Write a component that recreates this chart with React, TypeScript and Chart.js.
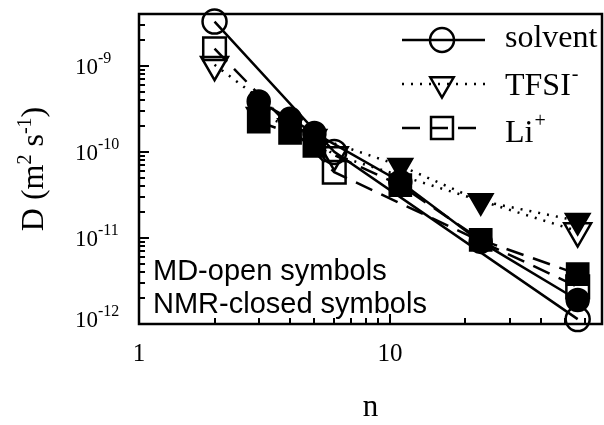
import React, { useEffect, useRef } from 'react';
import { Chart, registerables } from 'chart.js';

Chart.register(...registerables);

// ---- data ----
const mdN = [2, 6, 56];
const nmrN = [3, 4, 5, 11, 23, 56];

const solventMD = [3.27e-9, 1.0e-10, 1.14e-12];
const tfsiMD = [1.03e-9, 9.2e-11, 1.2e-11];
const liMD = [1.58e-9, 5.8e-11, 2.7e-12];

const solventNMR = [3.85e-10, 2.42e-10, 1.66e-10, 4.5e-11, 9.0e-12, 1.9e-12];
const tfsiNMR = [2.7e-10, 2.0e-10, 1.5e-10, 6.9e-11, 2.69e-11, 1.58e-11];
const liNMR = [2.25e-10, 1.66e-10, 1.17e-10, 4.1e-11, 9.5e-12, 3.8e-12];

const xMin = 1;
const xMax = 70;
const yMin = 1e-12;
const yMax = 4e-9;

const xTickValues = [1, 10];
const xTickLabels = ['1', '10'];
const yTickExponents = [-12, -11, -10, -9];

const legendNames = ['solvent', 'TFSI', 'Li'];
const legendSups = ['', '-', '+'];
const noteLines = ['MD-open symbols', 'NMR-closed symbols'];
const xTitle = 'n';

const SERIF = "'Liberation Serif', 'Times New Roman', serif";
const SANS = "'Liberation Sans', Arial, sans-serif";

const pts = (xs: number[], ys: number[]) => xs.map((x, i) => ({ x, y: ys[i] }));

const DOT = [2, 7];
const DASH = [18, 10];

function drawMarker(ctx: CanvasRenderingContext2D, style: string, x: number, y: number, r: number, filled: boolean) {
  ctx.beginPath();
  if (style === 'circle') {
    ctx.arc(x, y, r, 0, Math.PI * 2);
  } else if (style === 'triangle') {
    const s = Math.sin(Math.PI / 3) * r;
    ctx.moveTo(x, y + r);
    ctx.lineTo(x - s, y - r / 2);
    ctx.lineTo(x + s, y - r / 2);
    ctx.closePath();
  } else {
    const h = Math.SQRT1_2 * r;
    ctx.rect(x - h, y - h, 2 * h, 2 * h);
  }
  if (filled) {
    ctx.fillStyle = '#000';
    ctx.fill();
  }
  ctx.setLineDash([]);
  ctx.lineWidth = 2.5;
  ctx.strokeStyle = '#000';
  ctx.stroke();
}

const decor = {
  id: 'decor',
  beforeDatasetsDraw(chart: any) {
    const { ctx, chartArea: a, scales } = chart;
    const xs = scales.x;
    const ys = scales.y;
    ctx.save();
    ctx.strokeStyle = '#000';
    ctx.lineWidth = 2.5;
    ctx.strokeRect(a.left, a.top, a.right - a.left, a.bottom - a.top);
    ctx.lineWidth = 2;
    ctx.beginPath();
    for (let e = 0; e <= 1; e++) {
      for (let k = 1; k <= 9; k++) {
        const v = k * Math.pow(10, e);
        if (v <= xMin || v >= xMax) continue;
        const px = Math.round(xs.getPixelForValue(v));
        const len = k === 1 ? 10 : 6;
        ctx.moveTo(px, a.bottom);
        ctx.lineTo(px, a.bottom - len);
      }
    }
    for (let e = -12; e <= -9; e++) {
      for (let k = 1; k <= 9; k++) {
        const v = k * Math.pow(10, e);
        if (v <= yMin * 1.0001 || v >= yMax) continue;
        const py = Math.round(ys.getPixelForValue(v));
        const len = k === 1 ? 10 : 6;
        ctx.moveTo(a.left, py);
        ctx.lineTo(a.left + len, py);
      }
    }
    ctx.stroke();
    ctx.restore();
  },
  afterDraw(chart: any) {
    const { ctx, chartArea: a, scales } = chart;
    const xs = scales.x;
    const ys = scales.y;
    ctx.save();
    ctx.fillStyle = '#000';

    // y tick labels 10^e
    yTickExponents.forEach((e) => {
      const py = ys.getPixelForValue(Math.pow(10, e));
      ctx.font = `23px ${SERIF}`;
      ctx.textAlign = 'left';
      ctx.textBaseline = 'middle';
      const yy = e === -12 ? py - 3 : py + 2;
      ctx.fillText('10', 75, yy);
      const w = ctx.measureText('10').width;
      ctx.font = `16px ${SERIF}`;
      ctx.fillText(String(e), 75 + w, yy - 9);
    });

    // x tick labels
    ctx.font = `25px ${SERIF}`;
    ctx.textAlign = 'center';
    ctx.textBaseline = 'middle';
    xTickValues.forEach((v, i) => {
      ctx.fillText(xTickLabels[i], xs.getPixelForValue(v), a.bottom + 30);
    });

    // x title
    ctx.font = `31px ${SERIF}`;
    ctx.fillText(xTitle, (a.left + a.right) / 2, 408);

    // y title: D (m^2 s^-1), rotated
    ctx.save();
    ctx.translate(43, (a.top + a.bottom) / 2);
    ctx.rotate(-Math.PI / 2);
    ctx.textBaseline = 'alphabetic';
    ctx.textAlign = 'left';
    const parts: [string, boolean][] = [['D (m', false], ['2', true], [' s', false], ['-1', true], [')', false]];
    const big = `32px ${SERIF}`;
    const small = `20px ${SERIF}`;
    let total = 0;
    parts.forEach(([t, sup]) => {
      ctx.font = sup ? small : big;
      total += ctx.measureText(t).width;
    });
    let cx = -total / 2;
    parts.forEach(([t, sup]) => {
      ctx.font = sup ? small : big;
      ctx.fillText(t, cx, sup ? -12 : 0);
      cx += ctx.measureText(t).width;
    });
    ctx.restore();

    // legend
    const styles = ['circle', 'triangle', 'rect'];
    const radii = [12, 13.5, 15.5];
    const dashes = [[], DOT, DASH];
    legendNames.forEach((name, i) => {
      const ry = 40 + i * 44;
      ctx.save();
      ctx.lineWidth = 2.5;
      ctx.strokeStyle = '#000';
      ctx.setLineDash(dashes[i]);
      ctx.beginPath();
      ctx.moveTo(402, ry);
      ctx.lineTo(485, ry);
      ctx.stroke();
      ctx.restore();
      drawMarker(ctx, styles[i], 442, ry, radii[i], false);
      ctx.font = `32px ${SERIF}`;
      ctx.textAlign = 'left';
      ctx.textBaseline = 'alphabetic';
      const by = 47 + i * 47.5;
      ctx.fillText(name, 505, by);
      if (legendSups[i]) {
        const w = ctx.measureText(name).width;
        ctx.font = `20px ${SERIF}`;
        ctx.fillText(legendSups[i], 505 + w + 1, by - 15);
      }
    });

    // note
    ctx.font = `29px ${SANS}`;
    ctx.textAlign = 'left';
    ctx.textBaseline = 'alphabetic';
    ctx.fillText(noteLines[0], 153, 280);
    ctx.fillText(noteLines[1], 153, 313);

    ctx.restore();
  },
};

function ds(xs: number[], ys: number[], style: string, r: number, filled: boolean, dash: number[]) {
  return {
    data: pts(xs, ys),
    showLine: true,
    borderColor: '#000',
    borderWidth: 2.5,
    borderDash: dash,
    tension: 0,
    pointStyle: style,
    pointRadius: r,
    pointRotation: style === 'triangle' ? 180 : 0,
    pointBorderWidth: 2.5,
    pointBorderColor: '#000',
    pointBackgroundColor: filled ? '#000' : 'rgba(0,0,0,0)',
    clip: false as const,
  };
}

export default function App() {
  const ref = useRef<HTMLCanvasElement>(null);
  useEffect(() => {
    if (!ref.current) return;
    const chart = new Chart(ref.current, {
      type: 'scatter',
      data: {
        datasets: [
          ds(mdN, solventMD, 'circle', 12, false, []),
          ds(mdN, tfsiMD, 'triangle', 15.5, false, DOT),
          ds(mdN, liMD, 'rect', 16, false, DASH),
          ds(nmrN, solventNMR, 'circle', 11, true, []),
          ds(nmrN, tfsiNMR, 'triangle', 13.5, true, DOT),
          ds(nmrN, liNMR, 'rect', 15, true, DASH),
        ] as any,
      },
      options: {
        responsive: false,
        animation: false,
        devicePixelRatio: 1,
        layout: { autoPadding: false, padding: { left: 139, top: 14, right: 2, bottom: 101 } },
        plugins: { legend: { display: false }, tooltip: { enabled: false } },
        events: [],
        scales: {
          x: { type: 'logarithmic', min: xMin, max: xMax, display: false },
          y: { type: 'logarithmic', min: yMin, max: yMax, display: false },
        },
      },
      plugins: [decor],
    });
    return () => chart.destroy();
  }, []);
  return (
    <div style={{ position: 'absolute', left: 0, top: 0, width: 604, height: 425, background: '#fff' }}>
      <canvas ref={ref} width={604} height={425} />
    </div>
  );
}
